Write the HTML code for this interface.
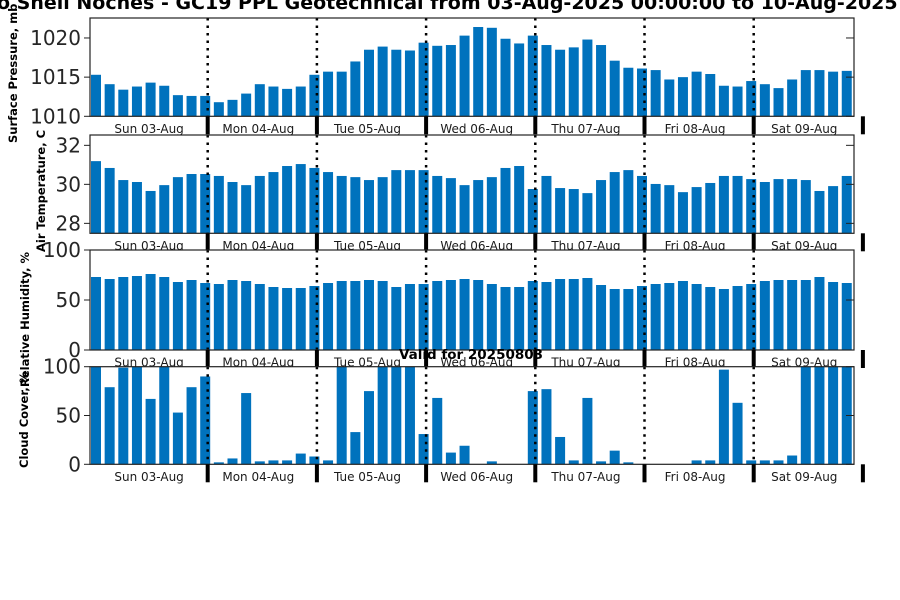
<!DOCTYPE html>
<html><head><meta charset="utf-8"><style>
html,body{margin:0;padding:0;background:#fff;}
svg{display:block;font-family:"DejaVu Sans","Liberation Sans",sans-serif;}
</style></head><body>
<svg id="chart" width="900" height="600" viewBox="0 0 900 600" xmlns="http://www.w3.org/2000/svg">
<rect width="900" height="600" fill="#fff"/>
<g id="root"></g>
</svg>
<script>
const days = ["Sun 03-Aug","Mon 04-Aug","Tue 05-Aug","Wed 06-Aug","Thu 07-Aug","Fri 08-Aug","Sat 09-Aug"];
const pressure = [1015.3,1014.1,1013.4,1013.8,1014.3,1013.9,1012.7,1012.6,1012.6,1011.8,1012.1,1012.9,1014.1,1013.8,1013.5,1013.8,1015.3,1015.7,1015.7,1017.0,1018.5,1018.9,1018.5,1018.4,1019.4,1019.0,1019.1,1020.3,1021.4,1021.3,1019.9,1019.3,1020.3,1019.1,1018.5,1018.8,1019.8,1019.1,1017.1,1016.2,1016.1,1015.9,1014.7,1015.0,1015.7,1015.4,1013.9,1013.8,1014.5,1014.1,1013.6,1014.7,1015.9,1015.9,1015.7,1015.8];
const temperature = [31.19,30.84,30.22,30.12,29.66,29.96,30.37,30.53,30.53,30.43,30.12,29.96,30.43,30.63,30.94,31.04,30.84,30.63,30.43,30.37,30.22,30.37,30.73,30.73,30.73,30.43,30.32,29.96,30.22,30.37,30.84,30.94,29.76,30.43,29.81,29.76,29.55,30.22,30.63,30.73,30.43,30.02,29.96,29.6,29.86,30.07,30.43,30.43,30.27,30.12,30.27,30.27,30.22,29.66,29.91,30.43];
const humidity = [73,71,73,74,76,73,68,70,67,66,70,69,66,63,62,62,64,67,69,69,70,69,63,66,66,69,70,71,70,66,63,63,69,68,71,71,72,65,61,61,64,66,67,69,66,63,61,64,66,69,70,70,70,73,68,67];
const cloud = [100,79,99,100,67,100,53,79,90,2,6,73,3,4,4,11,8,4,100,33,75,100,100,100,31,68,12,19,0,3,0,0,75,77,28,4,68,3,14,2,0,0,0,0,4,4,97,63,4,4,4,9,100,100,100,100];
const pressureTicks = [1010,1015,1020];
const tempTicks = [28,30,32];
const pctTicks = [0,50,100];

const NS="http://www.w3.org/2000/svg";
const root=document.getElementById('root');
function mk(tag,attrs,parent){const e=document.createElementNS(NS,tag);for(const k in attrs)e.setAttribute(k,attrs[k]);(parent||root).appendChild(e);return e;}
const X0=90,X1=854,C0=96,STEP=13.65,BW=10;
function xc(i){return C0+i*STEP;}
function dayLine(k){return xc(8*k)+2.5;}

const panels=[
 {name:'pressure',data:pressure,ticks:pressureTicks,top:18,bot:116.3,vmin:1010,vmax:1022.55,title:'Surface Pressure, mb',tx:17,ty:143},
 {name:'temperature',data:temperature,ticks:tempTicks,top:135,bot:233.3,vmin:27.49,vmax:32.53,title:'Air Temperature, C',tx:45,ty:252},
 {name:'humidity',data:humidity,ticks:pctTicks,top:250,bot:350,vmin:0,vmax:100,title:'Relative Humidity, %',tx:29,ty:387},
 {name:'cloud-cover',data:cloud,ticks:pctTicks,top:366.7,bot:464.3,vmin:0,vmax:100,title:'Cloud Cover, %',tx:28,ty:468}
];

// title
const t=mk('text',{x:-3,y:9,'font-size':19,'font-weight':'bold',fill:'#000'});


t.textContent='o Shell Noches - GC19 PPL Geotechnical from 03-Aug-2025 00:00:00 to 10-Aug-2025 00:00:00';

panels.forEach((p)=>{
  const g=mk('g',{});
  
  
  const y=v=>p.bot-(Math.max(v,p.vmin)-p.vmin)/(p.vmax-p.vmin)*(p.bot-p.top);
  mk('rect',{x:X0,y:p.top,width:X1-X0,height:p.bot-p.top,fill:'#fff'},g);
  p.data.forEach((v,i)=>{
    const yy=y(v);
    if(p.bot-yy<=0.01)return;
    const r=mk('rect',{x:xc(i)-BW/2,y:yy,width:BW,height:p.bot-yy,fill:'#0072bd'},g);
    
    
  });
  for(let k=1;k<7;k++){
    const l=mk('line',{x1:dayLine(k),x2:dayLine(k),y1:p.top,y2:p.bot,stroke:'#000','stroke-width':2.5,'stroke-dasharray':'2.5,5'},g);
    
    
  }
  p.ticks.forEach(v=>{
    const yy=y(v);
    mk('line',{x1:X0-6,x2:X0,y1:yy,y2:yy,stroke:'#222'},g);
    mk('line',{x1:X1-8,x2:X1,y1:yy,y2:yy,stroke:'#222'},g);
    const tl=mk('text',{x:X0-9,y:yy+7,'font-size':20,'text-anchor':'end',fill:'#262626'},g);
    
    
    tl.textContent=String(v);
  });
  mk('rect',{x:X0,y:p.top,width:X1-X0,height:p.bot-p.top,fill:'none',stroke:'#222','stroke-width':1.2},g);
  days.forEach((d,k)=>{
    const cx=(dayLine(k)+dayLine(k+1))/2-4;
    const dl=mk('text',{x:cx,y:p.bot+16.5,'font-size':12,'text-anchor':'middle',fill:'#1a1a1a'},g);
    
    
    dl.textContent=d;
  });
  for(let k=1;k<=7;k++){
    mk('line',{x1:dayLine(k),x2:dayLine(k),y1:p.bot,y2:p.bot+18,stroke:'#000','stroke-width':4},g);
  }
  const at=mk('text',{x:0,y:0,'font-size':11.5,'font-weight':'bold',fill:'#000',transform:`translate(${p.tx},${p.ty}) rotate(-90)`},g);
  
  
  at.textContent=p.title;
});

const vt=mk('text',{x:471,y:359,'font-size':13.5,'font-weight':'bold','text-anchor':'middle',fill:'#000'});


vt.textContent='Valid for 20250803';
</script>
</body></html>
